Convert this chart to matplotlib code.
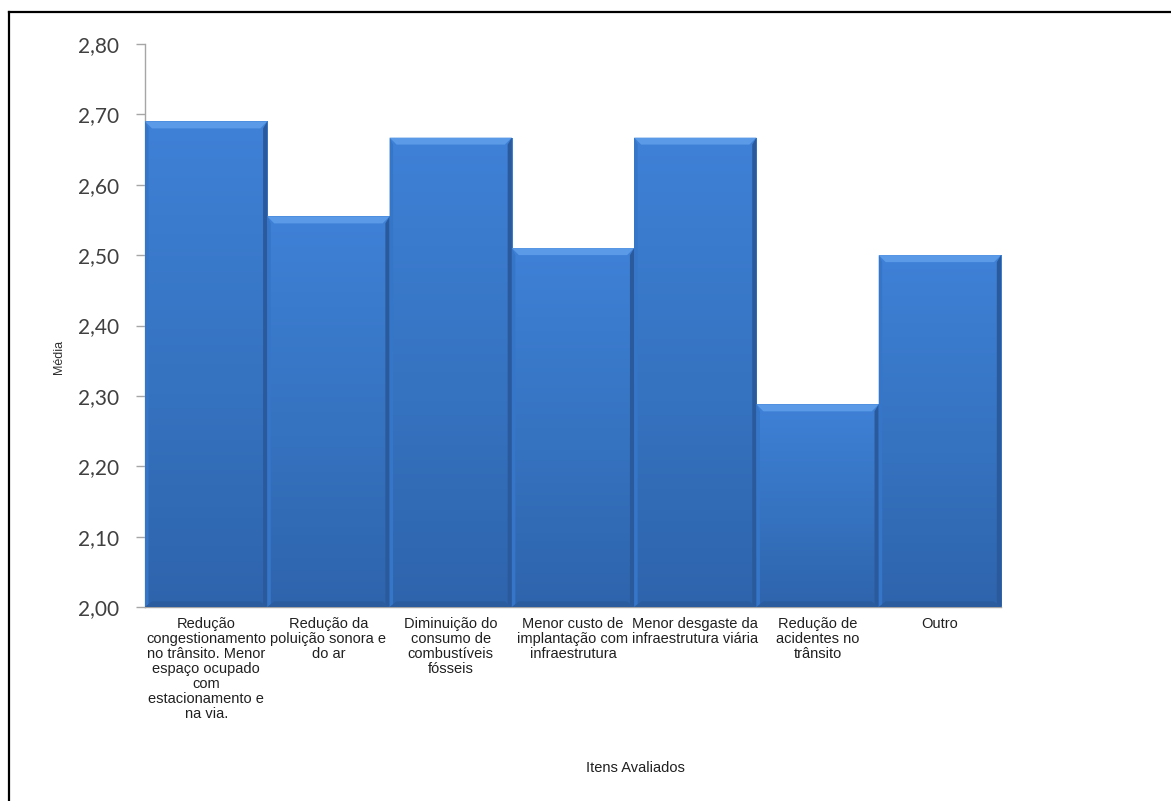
import numpy as np
import matplotlib
matplotlib.use("Agg")
import matplotlib.pyplot as plt
from matplotlib.lines import Line2D
from matplotlib.patches import Polygon
from matplotlib.ticker import FuncFormatter

categories = [
    "Redução\ncongestionamento\nno trânsito. Menor\nespaço ocupado\ncom\nestacionamento e\nna via.",
    "Redução da\npoluição sonora e\ndo ar",
    "Diminuição do\nconsumo de\ncombustíveis\nfósseis",
    "Menor custo de\nimplantação com\ninfraestrutura",
    "Menor desgaste da\ninfraestrutura viária",
    "Redução de\nacidentes no\ntrânsito",
    "Outro",
]
values = [2.69, 2.555, 2.667, 2.51, 2.667, 2.288, 2.50]
y_ticks = [2.0, 2.1, 2.2, 2.3, 2.4, 2.5, 2.6, 2.7, 2.8]
y_label = "Média"
x_label = "Itens Avaliados"

W, H = 1171, 801
fig = plt.figure(figsize=(W / 100, H / 100), dpi=100)
ax = fig.add_axes([145 / W, 1 - 607 / H, (1001 - 145) / W, (607 - 44) / H])

x = np.arange(len(categories))
ymin, ymax = 2.0, 2.8
bars = ax.bar(x, np.array(values) - ymin, bottom=ymin, width=1.0,
              color="none", edgecolor="none", zorder=2)

grad = np.linspace(0, 1, 256).reshape(-1, 1)
cmap = matplotlib.colors.LinearSegmentedColormap.from_list(
    "bev", ["#2E64AC", "#3674C2", "#3F81D7"])
px_per_unit_y = (607 - 44) / (ymax - ymin)
px_per_unit_x = (1001 - 145) / len(categories)
bev_y = 7 / px_per_unit_y
bev_x = 7 / px_per_unit_x
for b, v in zip(bars, values):
    x0 = b.get_x()
    x1 = x0 + b.get_width()
    im = ax.imshow(grad, extent=[x0, x1, ymin, v], origin="lower",
                   cmap=cmap, aspect="auto", zorder=2, interpolation="bilinear")
    im.set_clip_path(b)
    ax.add_patch(Polygon([[x0, v], [x1, v], [x1 - bev_x, v - bev_y], [x0 + bev_x, v - bev_y]],
                         closed=True, facecolor="#5A9AE6", edgecolor="none", zorder=3))
    ax.add_patch(Polygon([[x1, v], [x1, ymin], [x1 - bev_x * 0.6, ymin + bev_y * 0.3],
                          [x1 - bev_x * 0.6, v - bev_y]],
                         closed=True, facecolor="#2A5A9C", edgecolor="none", zorder=3))
    ax.add_patch(Polygon([[x0, v], [x0, ymin], [x0 + bev_x * 0.5, ymin + bev_y * 0.3],
                          [x0 + bev_x * 0.5, v - bev_y]],
                         closed=True, facecolor="#3676C8", edgecolor="none", zorder=3))
    ax.add_patch(Polygon([[x0, ymin], [x1, ymin], [x1 - bev_x, ymin + bev_y * 0.8],
                          [x0 + bev_x, ymin + bev_y * 0.8]],
                         closed=True, facecolor="#2A5C9E", edgecolor="none", zorder=3))

ax.set_xlim(-0.5, len(categories) - 0.5)
ax.set_ylim(ymin, ymax)
ax.set_yticks(y_ticks)
ax.yaxis.set_major_formatter(FuncFormatter(lambda v, p: f"{v:.2f}".replace(".", ",")))

for s in ["top", "right"]:
    ax.spines[s].set_visible(False)
ax.spines["left"].set_color("#A6A6A6")
ax.spines["bottom"].set_color("#A6A6A6")
ax.spines["left"].set_linewidth(1.0)
ax.spines["bottom"].set_linewidth(1.0)
ax.spines["left"].set_zorder(1)

ax.tick_params(axis="y", length=6.5, width=1.0, color="#A6A6A6", pad=12,
               labelsize=15, labelcolor="#404040")
for t in ax.get_yticklabels():
    t.set_fontfamily("Lato")
ax.set_xticks(x)
ax.set_xticklabels(categories, fontsize=10.5, family="Liberation Sans",
                   color="#202020", linespacing=1.1, va="top")
ax.tick_params(axis="x", length=0, pad=7)

fig.text(59 / W, 1 - 357 / H, y_label, rotation=90, ha="center", va="center",
         fontsize=9, family="Liberation Sans", color="#303030")
fig.text(635 / W, 1 - 768 / H, x_label, ha="center", va="center",
         fontsize=10.5, family="Liberation Sans", color="#202020")

fig.add_artist(Line2D([8.5 / W, 1.0], [1 - 12 / H, 1 - 12 / H], color="black", lw=1.6,
                      transform=fig.transFigure))
fig.add_artist(Line2D([8.5 / W, 8.5 / W], [0, 1 - 12 / H], color="black", lw=1.6,
                      transform=fig.transFigure))

fig.savefig("out.png", dpi=100)
